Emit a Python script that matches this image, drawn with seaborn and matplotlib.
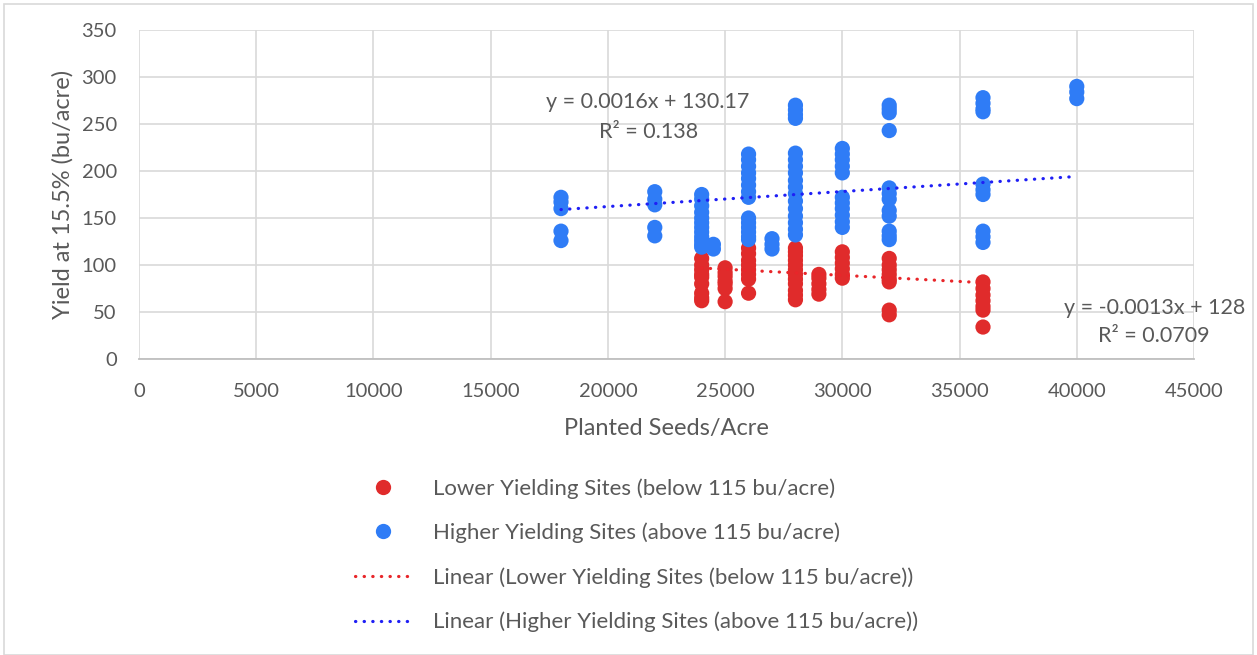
import numpy as np
import pandas as pd
import matplotlib
matplotlib.use("Agg")
import matplotlib.pyplot as plt
from matplotlib.lines import Line2D
from matplotlib.patches import Rectangle
import seaborn as sns

# yields, grouped by planted seeds/acre
low_seeds = [24000, 25000, 26000, 28000, 29000, 30000, 32000, 36000]
low_yields = [
    [107, 100, 95, 90, 87, 80, 70, 65, 62],
    [97, 92, 88, 83, 80, 75, 61],
    [118, 112, 105, 100, 95, 90, 85, 70],
    [118, 114, 110, 105, 100, 95, 90, 85, 80, 73, 68, 63],
    [90, 86, 80, 74, 69],
    [114, 108, 102, 96, 90, 86],
    [107, 100, 95, 90, 85, 82, 52, 47],
    [82, 75, 68, 62, 56, 52, 34],
]

high_seeds = [18000, 22000, 24000, 24500, 26000, 27000, 28000, 30000, 32000, 36000, 40000]
high_yields = [
    [172, 167, 160, 136, 126],
    [178, 170, 164, 140, 131],
    [175, 170, 163, 156, 150, 145, 140, 135, 130, 126, 122, 119],
    [122, 117],
    [218, 212, 205, 198, 192, 185, 178, 172, 150, 145, 140, 135, 130, 127],
    [128, 122, 117],
    [270, 265, 260, 256, 219, 212, 205, 198, 190, 183, 176, 168, 160, 152, 145, 138, 132],
    [224, 218, 212, 205, 198, 172, 166, 160, 153, 146, 140],
    [270, 266, 262, 243, 182, 176, 170, 158, 152, 136, 131, 127],
    [278, 272, 266, 263, 186, 180, 175, 136, 130, 124],
    [290, 284, 277],
]

# trendline coefficients shown on the chart
low_fit = (-0.0013, 128)
high_fit = (0.0016, 130.17)

low_name = "Lower Yielding Sites (below 115 bu/acre)"
high_name = "Higher Yielding Sites (above 115 bu/acre)"
red = "#E02B2B"
blue = "#2F7CF6"
red_line = "#E8262A"
blue_line = "#1F1FF5"
grey_text = "#595959"


def expand(seeds, yields, name):
    rows = [(s, y) for s, ys in zip(seeds, yields) for y in ys]
    d = pd.DataFrame(rows, columns=["seeds", "yield"])
    d["group"] = name
    return d


df = pd.concat([expand(low_seeds, low_yields, low_name),
                expand(high_seeds, high_yields, high_name)])

sns.set_style("white")
plt.rcParams["font.family"] = ["Lato", "DejaVu Sans"]

fig = plt.figure(figsize=(12.57, 6.55), dpi=100)
ax = fig.add_axes([139 / 1257, 1 - 359 / 655, (1194 - 139) / 1257, (359 - 30) / 655])

sns.scatterplot(data=df, x="seeds", y="yield", hue="group",
                palette={low_name: red, high_name: blue},
                s=120, linewidth=0, alpha=1, legend=False, ax=ax, zorder=3)

for xs, fit, col in [(low_seeds, low_fit, red_line), (high_seeds, high_fit, blue_line)]:
    xx = np.array([min(xs), max(xs)])
    ax.plot(xx, fit[0] * xx + fit[1], color=col, lw=2.3,
            linestyle=(0, (0.1, 2.6)), dash_capstyle="round", zorder=4)

ax.set_xlim(0, 45000)
ax.set_ylim(0, 350)
ax.set_xticks(np.arange(0, 45001, 5000))
ax.set_yticks(np.arange(0, 351, 50))
ax.grid(True, color="#D9D9D9", lw=1.2)
ax.set_axisbelow(True)
for side in ["top", "right", "left"]:
    ax.spines[side].set_visible(False)
ax.spines["bottom"].set_color("#BFBFBF")
ax.spines["bottom"].set_linewidth(1.3)
ax.tick_params(axis="both", length=0, labelsize=14.5, colors=grey_text)
ax.tick_params(axis="y", pad=16)
ax.tick_params(axis="x", pad=17)
ax.set_xlabel("Planted Seeds/Acre", fontsize=17, color=grey_text, labelpad=13)
ax.set_ylabel("Yield at 15.5% (bu/acre)", fontsize=17, color=grey_text, labelpad=6)

ax.text(21715, 273, "y = 0.0016x + 130.17", ha="center", va="center",
        fontsize=15.5, color=grey_text)
ax.text(21715, 242, "R² = 0.138", ha="center", va="center",
        fontsize=15.5, color=grey_text)
ax.text(43300, 54, "y = -0.0013x + 128", ha="center", va="center",
        fontsize=15.5, color=grey_text, clip_on=False)
ax.text(43300, 24, "R² = 0.0709", ha="center", va="center",
        fontsize=15.5, color=grey_text, clip_on=False)

handles = [
    Line2D([], [], marker="o", color="none", markerfacecolor=red,
           markeredgecolor="none", markersize=11),
    Line2D([], [], marker="o", color="none", markerfacecolor=blue,
           markeredgecolor="none", markersize=11),
    Line2D([], [], color=red_line, lw=2.3, linestyle=(0, (0.1, 2.6)),
           dash_capstyle="round"),
    Line2D([], [], color=blue_line, lw=2.3, linestyle=(0, (0.1, 2.6)),
           dash_capstyle="round"),
]
labels = [low_name, high_name, "Linear (" + low_name + ")", "Linear (" + high_name + ")"]
leg = fig.legend(handles, labels, loc="upper left", bbox_to_anchor=(355 / 1257, 1 - 478 / 655),
                 frameon=False, fontsize=16, handlelength=2.5, handletextpad=1.0,
                 labelspacing=1.08, borderpad=0, borderaxespad=0)
for t in leg.get_texts():
    t.set_color(grey_text)

fig.add_artist(Rectangle((4 / 1257, 0), 1 - 8 / 1257, 1 - 4 / 655, transform=fig.transFigure,
                         fill=False, edgecolor="#D9D9D9", lw=1.2))

fig.savefig("out.png", dpi=100)
